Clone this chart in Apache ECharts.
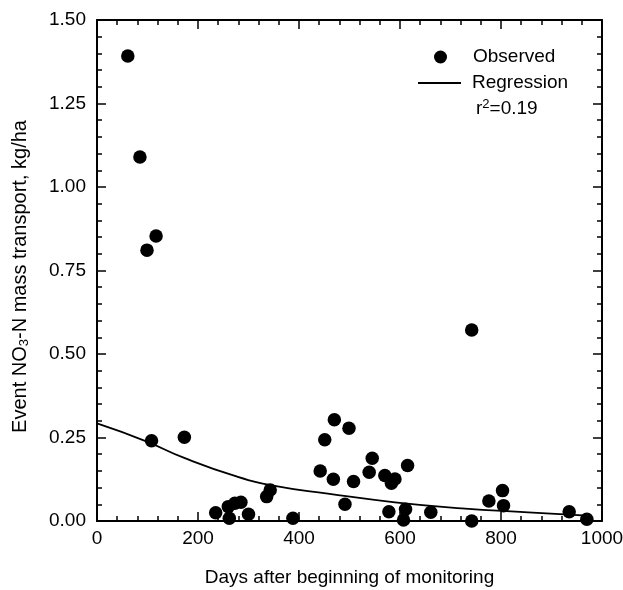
<!DOCTYPE html>
<html><head><meta charset="utf-8">
<script src="https://cdn.jsdelivr.net/npm/echarts@6/dist/echarts.min.js"></script>
<style>html,body{margin:0;padding:0;background:#fff}#c{width:623px;height:590px}</style>
</head><body><div id="c"></div>
<script>
// Observed event NO3-N mass transport (kg/ha) vs days after beginning of monitoring
const obsDays   = [61, 85, 117, 99, 108, 173, 235, 260, 273, 285, 262, 300, 336, 343, 388,
                   442, 451, 470, 499, 468, 508, 491, 545, 539, 570, 590, 583, 615, 578, 611,
                   607, 661, 742, 742, 776, 803, 805, 935, 970];
const obsValues = [1.392, 1.090, 0.853, 0.811, 0.240, 0.251, 0.025, 0.043, 0.053, 0.056, 0.008, 0.020, 0.073, 0.093, 0.008,
                   0.150, 0.243, 0.303, 0.278, 0.125, 0.118, 0.050, 0.188, 0.146, 0.136, 0.126, 0.113, 0.166, 0.028, 0.035,
                   0.003, 0.026, 0.572, 0.000, 0.060, 0.091, 0.046, 0.028, 0.005];
// Regression curve
const regDays   = [0, 95, 174, 273, 352, 457, 590, 722, 854, 970];
const regValues = [0.292, 0.240, 0.188, 0.135, 0.105, 0.082, 0.056, 0.038, 0.026, 0.016];
// Axis ticks
const xTicks = [0, 200, 400, 600, 800, 1000];
const yTicks = [0.00, 0.25, 0.50, 0.75, 1.00, 1.25, 1.50];
const rSquared = '0.19';

const FONT = "'Liberation Sans', Arial, Helvetica, sans-serif";
const obsData = obsDays.map((d, i) => [d, obsValues[i]]);
const regData = regDays.map((d, i) => [d, regValues[i]]);

function baseAxis(ticks, showLabel, isY) {
  return {
    type: 'value',
    min: ticks[0],
    max: ticks[ticks.length - 1],
    interval: ticks[1] - ticks[0],
    axisLine: { show: true, onZero: false, lineStyle: { color: '#000', width: 2 } },
    axisTick: { show: true, inside: true, length: 9, lineStyle: { color: '#000', width: 1.5 } },
    minorTick: { show: true, splitNumber: 5, length: 5, lineStyle: { color: '#000', width: 1.5 } },
    splitLine: { show: false },
    minorSplitLine: { show: false },
    axisLabel: {
      show: showLabel, color: '#000', fontSize: 19, fontFamily: FONT,
      margin: isY ? 11 : 8,
      formatter: isY ? (v => v.toFixed(2)) : (v => String(v))
    }
  };
}

const legendText = { color: '#000', fontSize: 19, fontFamily: FONT, padding: [0, 0, 0, 6] };

const chart = echarts.init(document.getElementById('c'), null, { renderer: 'canvas' });
chart.setOption({
  backgroundColor: '#fff',
  animation: false,
  grid: { left: 97, right: 21, top: 20, bottom: 69, containLabel: false, outerBoundsMode: 'none' },
  xAxis: [
    Object.assign(baseAxis(xTicks, true, false), {
      position: 'bottom',
      name: 'Days after beginning of monitoring',
      nameLocation: 'middle', nameGap: 47,
      nameTextStyle: { color: '#000', fontSize: 19, fontFamily: FONT }
    }),
    Object.assign(baseAxis(xTicks, false, false), { position: 'top' })
  ],
  yAxis: [
    Object.assign(baseAxis(yTicks, true, true), {
      position: 'left',
      name: 'Event NO{sub|3}-N mass transport, kg/ha',
      nameLocation: 'middle', nameGap: 66, nameRotate: 90,
      nameTextStyle: {
        color: '#000', fontSize: 20, fontFamily: FONT, padding: [0, 12, 0, 0],
        rich: { sub: { fontSize: 13, fontFamily: FONT, color: '#000', verticalAlign: 'bottom', padding: [8, 0, 0, 0] } }
      }
    }),
    Object.assign(baseAxis(yTicks, false, true), { position: 'right' })
  ],
  legend: [
    {
      data: [{ name: 'Observed', icon: 'circle' }],
      orient: 'vertical', left: 434, top: 47.5, padding: 0,
      itemWidth: 43, itemHeight: 13,
      textStyle: legendText, selectedMode: false
    },
    {
      data: [{ name: 'Regression', icon: 'rect' }],
      orient: 'vertical', left: 418, top: 73.5, padding: 0,
      itemWidth: 43, itemHeight: 1.8,
      textStyle: legendText, selectedMode: false
    }
  ],
  graphic: [{
    type: 'text', left: 476, top: 98,
    style: {
      text: 'r{sup|2}=' + rSquared,
      fill: '#000', fontSize: 19, fontFamily: FONT,
      rich: { sup: { fontSize: 13, fontFamily: FONT, fill: '#000', verticalAlign: 'top', padding: [0, 0, 8, 0] } }
    }
  }],
  series: [
    {
      name: 'Observed', type: 'scatter', xAxisIndex: 0, yAxisIndex: 0,
      symbol: 'circle', symbolSize: 13.5,
      itemStyle: { color: '#000', opacity: 1 },
      data: obsData, z: 3
    },
    {
      name: 'Regression', type: 'line', xAxisIndex: 0, yAxisIndex: 0,
      symbol: 'none', smooth: true,
      lineStyle: { color: '#000', width: 1.8 },
      itemStyle: { color: '#000' },
      data: regData, z: 2
    }
  ]
});
</script></body></html>
